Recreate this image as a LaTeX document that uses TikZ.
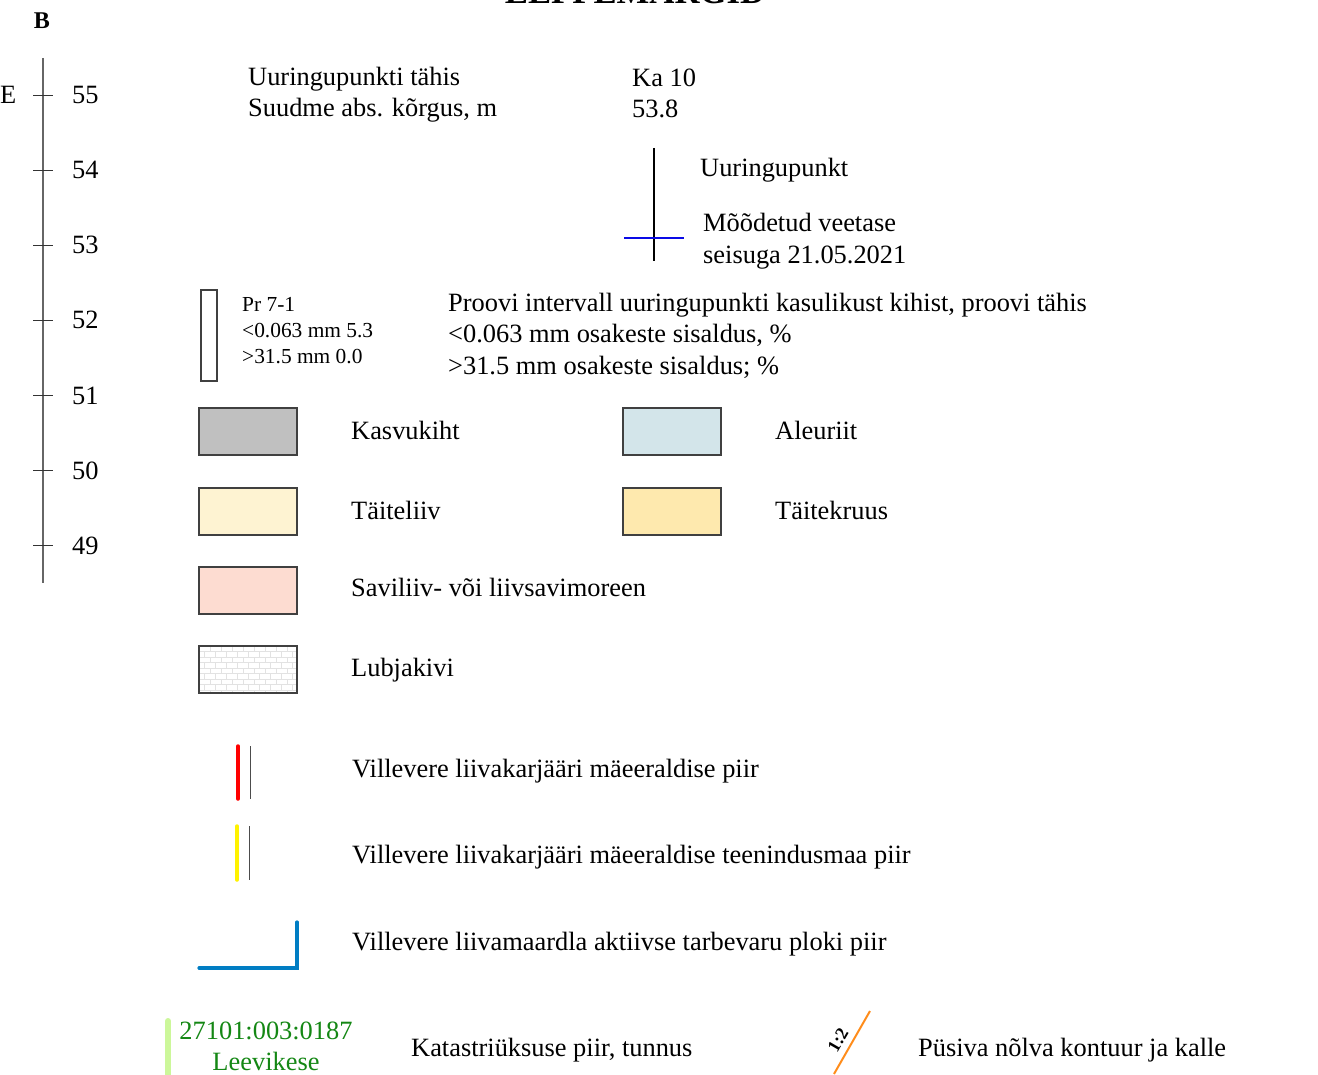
\documentclass[tikz,border=0pt]{standalone}
\usepackage{fontspec}
\setmainfont{Liberation Serif}
\definecolor{kasvu}{HTML}{C0C0C0}
\definecolor{aleu}{HTML}{D3E5EA}
\definecolor{tliiv}{HTML}{FEF3D2}
\definecolor{tkruus}{HTML}{FEE9AE}
\definecolor{savi}{HTML}{FDDCD1}
\definecolor{brickc}{HTML}{E2E2E2}
\definecolor{plokk}{RGB}{0,125,195}
\definecolor{katgreen}{RGB}{20,135,20}
\definecolor{katbar}{HTML}{CCF79A}
\definecolor{nolv}{HTML}{FF8C1A}
\definecolor{wlblue}{RGB}{10,10,230}
\begin{document}
\begin{tikzpicture}[x=1pt,y=-1pt,
  lbl/.style={anchor=base west, inner sep=0pt, font=\fontsize{26.4}{31}\selectfont},
  small/.style={anchor=base west, inner sep=0pt, font=\fontsize{21.4}{26}\selectfont},
  swatch/.style={draw=black!75, line width=1.3pt},
  tickmark/.style={draw=black!80, line width=0.9pt},
  brick/.style={draw=brickc, line width=0.6pt}]
\useasboundingbox (0,0) rectangle (1318,1075);

% title (cut off at top)
\node[anchor=base, inner sep=0pt, font=\fontsize{34.7}{40}\selectfont\bfseries] (title) at (635,4) {LEPPEMÄRGID};

% axis
\node[anchor=base, inner sep=0pt, font=\fontsize{24}{28}\selectfont\bfseries] (B) at (42,29) {B};
\node[lbl] (E) at (0,104) {E};
\coordinate (axtop) at (43,58);
\coordinate (axbot) at (43,583);
\draw[black!60, line width=1.4pt] (axtop) -- (axbot);
\foreach \v [count=\i from 0] in {55,54,53,52,51,50,49}{
  \draw[tickmark] (33,{95+\i*75}) -- (53,{95+\i*75});
  \node[lbl] (ax\v) at (72,{104+\i*75}) {\v};
}

% header
\node[lbl] (h1) at (248,86) {Uuringupunkti tähis};
\node[lbl] (h2) at (248,117) {Suudme abs. kõrgus, m};
\node[lbl] (k1) at (632,87) {Ka 10};
\node[lbl] (k2) at (632,118) {53.8};

% survey point
\coordinate (ptop) at (654,148);
\coordinate (pbot) at (654,261);
\draw[black, line width=2pt] (ptop) -- (pbot);
\coordinate (wl1) at (624,238);
\coordinate (wl2) at (684,238);
\draw[wlblue, line width=1.4pt] (wl1) -- (wl2);
\node[lbl] (up) at (700,177) {Uuringupunkt};
\node[lbl] (wt1) at (703,232) {Mõõdetud veetase};
\node[lbl] (wt2) at (703,264) {seisuga 21.05.2021};

% sample
\draw[black!75, line width=1.2pt] (201,290) rectangle (217,381);
\node[small] (pr1) at (242,312) {Pr 7-1};
\node[small] (pr2) at (242,338) {<0.063 mm 5.3};
\node[small] (pr3) at (242,364) {>31.5 mm 0.0};
\node[lbl] (pt1) at (448,312) {Proovi intervall uuringupunkti kasulikust kihist, proovi tähis};
\node[lbl] (pt2) at (448,343) {<0.063 mm osakeste sisaldus, \%};
\node[lbl] (pt3) at (448,375) {>31.5 mm osakeste sisaldus; \%};

% swatches
\draw[swatch, fill=kasvu] (199,408) rectangle (297,455);
\node[lbl] (s1) at (351,439) {Kasvukiht};
\draw[swatch, fill=aleu] (623,408) rectangle (721,455);
\node[lbl] (s2) at (775,439) {Aleuriit};
\draw[swatch, fill=tliiv] (199,488) rectangle (297,535);
\node[lbl] (s3) at (351,519) {Täiteliiv};
\draw[swatch, fill=tkruus] (623,488) rectangle (721,535);
\node[lbl] (s4) at (775,519) {Täitekruus};
\draw[swatch, fill=savi] (199,567) rectangle (297,614);
\node[lbl] (s5) at (351,596) {Saviliiv- või liivsavimoreen};
\begin{scope}
  \clip (199,646) rectangle (297,693);
  \foreach \r in {0,...,8}{
    \draw[brick] (199,{646+\r*5.5}) -- (297,{646+\r*5.5});
    \foreach \c in {0,...,9}{
      \draw[brick] ({199+\c*11+mod(\r,2)*5.5},{646+\r*5.5}) -- ++(0,5.5);
    }
  }
\end{scope}
\draw[swatch] (199,646) rectangle (297,693);
\node[lbl] (s6) at (351,676) {Lubjakivi};

% boundary lines
\draw[red, line width=3.5pt, line cap=round] (238,746) -- (238,799);
\draw[black!70, line width=1pt] (250,746) -- (250,799);
\node[lbl] (l1) at (352,777) {Villevere liivakarjääri mäeeraldise piir};
\draw[yellow, line width=3.5pt, line cap=round] (237,826) -- (237,880);
\draw[black!70, line width=1pt] (249,826) -- (249,880);
\node[lbl] (l2) at (352,863) {Villevere liivakarjääri mäeeraldise teenindusmaa piir};
\draw[plokk, line width=3.2pt, line cap=round, line join=miter] (199,968) -- (297,968) -- (297,922);
\node[lbl] (l3) at (352,950) {Villevere liivamaardla aktiivse tarbevaru ploki piir};

% cadastral
\draw[katbar, line width=6pt, line cap=round] (168,1021) -- (168,1078);
\node[anchor=base, inner sep=0pt, font=\fontsize{26.4}{31}\selectfont, text=katgreen] (kt1) at (266,1039) {27101:003:0187};
\node[anchor=base, inner sep=0pt, font=\fontsize{26.4}{31}\selectfont, text=katgreen] (kt2) at (266,1070) {Leevikese};
\node[lbl] (l4) at (411,1056) {Katastriüksuse piir, tunnus};

% slope
\coordinate (n1) at (834,1074);
\coordinate (n2) at (870,1011);
\draw[nolv, line width=2pt] (n1) -- (n2);
\node[rotate=60, inner sep=0pt, font=\fontsize{18}{20}\selectfont\bfseries] (ratio) at (838,1040) {1:2};
\node[lbl] (l5) at (918,1056) {Püsiva nõlva kontuur ja kalle};
\end{tikzpicture}
\end{document}
